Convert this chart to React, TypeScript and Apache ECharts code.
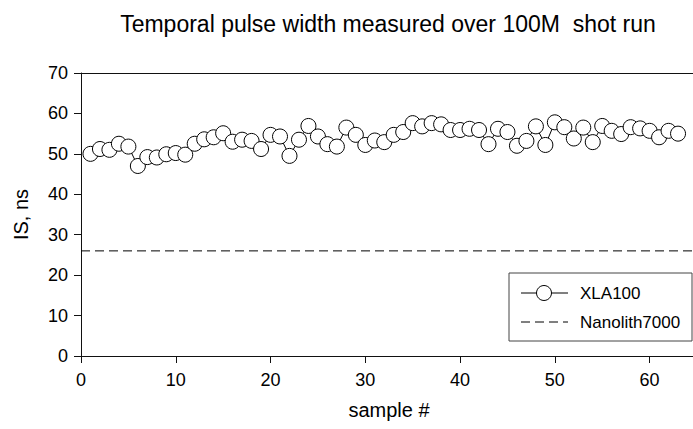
import React, { useEffect, useRef } from "react";
import * as echarts from "echarts";

const samples: number[] = Array.from({ length: 63 }, (_, i) => i + 1);
const xla100: number[] = [
  50, 51.2, 51, 52.5, 51.8, 47, 49.2, 49.1, 49.9, 50.2,
  49.8, 52.5, 53.6, 54.1, 55.1, 53, 53.5, 53.2, 51.2, 54.7,
  54.3, 49.5, 53.5, 56.9, 54.3, 52.4, 51.8, 56.5, 54.7, 52.2,
  53.3, 52.9, 54.7, 55.4, 57.6, 56.8, 57.6, 57.3, 55.9, 55.9,
  56.2, 55.9, 52.4, 56.2, 55.4, 52, 53.2, 56.8, 52.2, 57.8,
  56.6, 53.8, 56.5, 52.9, 56.9, 55.7, 54.9, 56.6, 56.3, 55.7,
  54.1, 55.7, 55,
];
const nanolithLevel = 26;
const xRange: number[] = [0, 65];
const yRange: number[] = [0, 70];

const FONT = "'Liberation Sans', Arial, sans-serif";

export default function App() {
  const ref = useRef<HTMLDivElement>(null);
  useEffect(() => {
    if (!ref.current) return;
    const chart = echarts.init(ref.current, undefined, { renderer: "svg" });
    chart.setOption({
      animation: false,
      backgroundColor: "#fff",
      textStyle: { fontFamily: FONT, color: "#000" },
      title: {
        text: "Temporal pulse width measured over 100M  shot run",
        left: 383,
        top: 7,
        textAlign: "center",
        textStyle: { fontFamily: FONT, fontSize: 23, fontWeight: "normal", color: "#000" },
      },
      grid: {
        left: 81,
        top: 73,
        right: -4,
        bottom: 73,
        outerBoundsMode: "none",
        containLabel: false,
        show: false,
      },
      xAxis: [
        {
          type: "value",
          min: xRange[0],
          max: xRange[1],
          interval: 10,
          name: "sample #",
          nameLocation: "middle",
          nameGap: 44,
          nameTextStyle: { fontFamily: FONT, fontSize: 20, color: "#000" },
          axisLine: { show: true, onZero: false, lineStyle: { color: "#111", width: 1 } },
          axisTick: { show: true, inside: false, length: 7, lineStyle: { color: "#111" } },
          axisLabel: {
            fontFamily: FONT,
            fontSize: 18,
            color: "#000",
            margin: 15,
            formatter: (v: number) => (v > 60 ? "" : String(v)),
          },
          splitLine: { show: false },
        },
        {
          type: "value",
          position: "top",
          min: xRange[0],
          max: xRange[1],
          axisLine: { show: true, onZero: false, lineStyle: { color: "#111", width: 1 } },
          axisTick: { show: false },
          axisLabel: { show: false },
          splitLine: { show: false },
        },
      ],
      yAxis: {
        type: "value",
        min: yRange[0],
        max: yRange[1],
        interval: 10,
        name: "IS, ns",
        nameLocation: "middle",
        nameGap: 50,
        nameTextStyle: { fontFamily: FONT, fontSize: 20, color: "#000" },
        axisLine: { show: true, onZero: false, lineStyle: { color: "#111", width: 1 } },
        axisTick: { show: true, inside: false, length: 7, lineStyle: { color: "#111" } },
        axisLabel: { fontFamily: FONT, fontSize: 18, color: "#000", margin: 13 },
        splitLine: { show: false },
      },
      series: [
        {
          name: "Nanolith7000",
          type: "line",
          data: [
            [xRange[0], nanolithLevel],
            [xRange[1], nanolithLevel],
          ],
          showSymbol: false,
          symbol: "none",
          lineStyle: { color: "#000", width: 1, type: [9, 5] },
          z: 1,
        },
        {
          name: "XLA100",
          type: "line",
          data: samples.map((s, i) => [s, xla100[i]]),
          symbol: "circle",
          symbolSize: 15,
          itemStyle: { color: "#fff", borderColor: "#000", borderWidth: 1 },
          lineStyle: { color: "#000", width: 1 },
          z: 2,
        },
      ],
      graphic: [
        {
          type: "rect",
          shape: { x: 509, y: 273, width: 183, height: 68 },
          style: { fill: "#fff", stroke: "#444", lineWidth: 1 },
          z: 10,
        },
        {
          type: "line",
          shape: { x1: 521, y1: 293, x2: 568, y2: 293 },
          style: { stroke: "#000", lineWidth: 1 },
          z: 11,
        },
        {
          type: "circle",
          shape: { cx: 544, cy: 293, r: 7.5 },
          style: { fill: "#fff", stroke: "#000", lineWidth: 1 },
          z: 12,
        },
        {
          type: "text",
          x: 580,
          y: 293,
          style: { text: "XLA100", font: "17px " + FONT, fill: "#000", textVerticalAlign: "middle" },
          z: 12,
        },
        {
          type: "line",
          shape: { x1: 521, y1: 322, x2: 568, y2: 322 },
          style: { stroke: "#000", lineWidth: 1, lineDash: [9, 5] },
          z: 11,
        },
        {
          type: "text",
          x: 580,
          y: 322,
          style: { text: "Nanolith7000", font: "17px " + FONT, fill: "#000", textVerticalAlign: "middle" },
          z: 12,
        },
      ],
    });
    return () => chart.dispose();
  }, []);
  return (
    <div
      ref={ref}
      style={{ position: "fixed", left: 0, top: 0, width: 693, height: 429 }}
    />
  );
}
